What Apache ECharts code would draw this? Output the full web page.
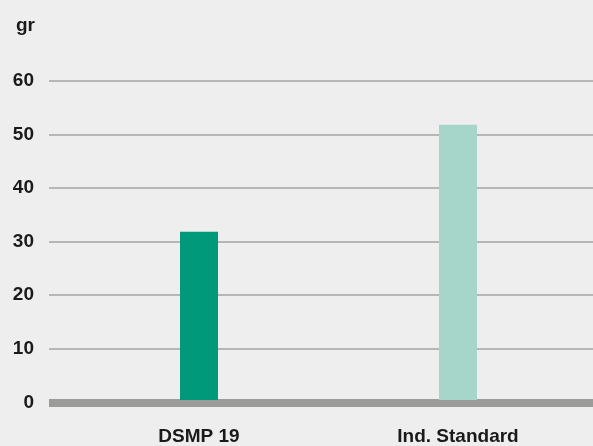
<!DOCTYPE html>
<html>
<head>
<meta charset="utf-8">
<script src="https://cdn.jsdelivr.net/npm/echarts@6/dist/echarts.min.js"></script>
<style>
html,body{margin:0;padding:0;background:#eeeeee;}
#c{width:593px;height:446px;}
</style>
</head>
<body>
<div id="c"></div>
<script>
const categories = ['DSMP 19', 'Ind. Standard'];
const values = [31.6, 51.7];
const barColors = ['#00997a', '#a6d6ca'];
const yTicks = [0, 10, 20, 30, 40, 50, 60];
const unitLabel = 'gr';

const FONT = '"Liberation Sans", Arial, sans-serif';
const chart = echarts.init(document.getElementById('c'), null, {renderer: 'canvas'});
const yMin = yTicks[0], yMax = yTicks[yTicks.length - 1];
const yInterval = yTicks[1] - yTicks[0];

chart.setOption({
  backgroundColor: '#eeeeee',
  animation: false,
  title: {
    text: unitLabel,
    left: 16, top: 16, padding: 0,
    textStyle: {fontFamily: FONT, fontWeight: 'bold', fontSize: 19, color: '#1a1a1a'}
  },
  grid: [
    {left: 69.5, right: 5.5, top: 80.7, bottom: 43.5},
    {left: 49, right: 0, top: 80.7, bottom: 43.5}
  ],
  xAxis: [
    {
      gridIndex: 0, type: 'category', data: categories,
      axisLine: {show: false}, axisTick: {show: false},
      axisLabel: {margin: 27, fontFamily: FONT, fontWeight: 'bold', fontSize: 19, color: '#1a1a1a'}
    },
    {
      gridIndex: 1, type: 'category', data: categories, offset: 5.5,
      axisLine: {show: true, lineStyle: {color: '#9b9b9a', width: 8, cap: 'butt'}},
      axisTick: {show: false}, axisLabel: {show: false}
    }
  ],
  yAxis: [
    {
      gridIndex: 0, type: 'value', min: yMin, max: yMax, interval: yInterval,
      axisLine: {show: false}, axisTick: {show: false}, axisLabel: {show: false}, splitLine: {show: false}
    },
    {
      gridIndex: 1, type: 'value', min: yMin, max: yMax, interval: yInterval,
      axisLine: {show: false}, axisTick: {show: false},
      axisLabel: {margin: 15, fontFamily: FONT, fontWeight: 'bold', fontSize: 19, color: '#1a1a1a'},
      splitLine: {show: true, lineStyle: {color: '#a3a3a3', width: 1.5}}
    }
  ],
  series: [{
    type: 'bar', xAxisIndex: 0, yAxisIndex: 0,
    barWidth: 38, z: 3,
    data: values.map((v, i) => ({value: v, itemStyle: {color: barColors[i]}}))
  }]
});
</script>
</body>
</html>
